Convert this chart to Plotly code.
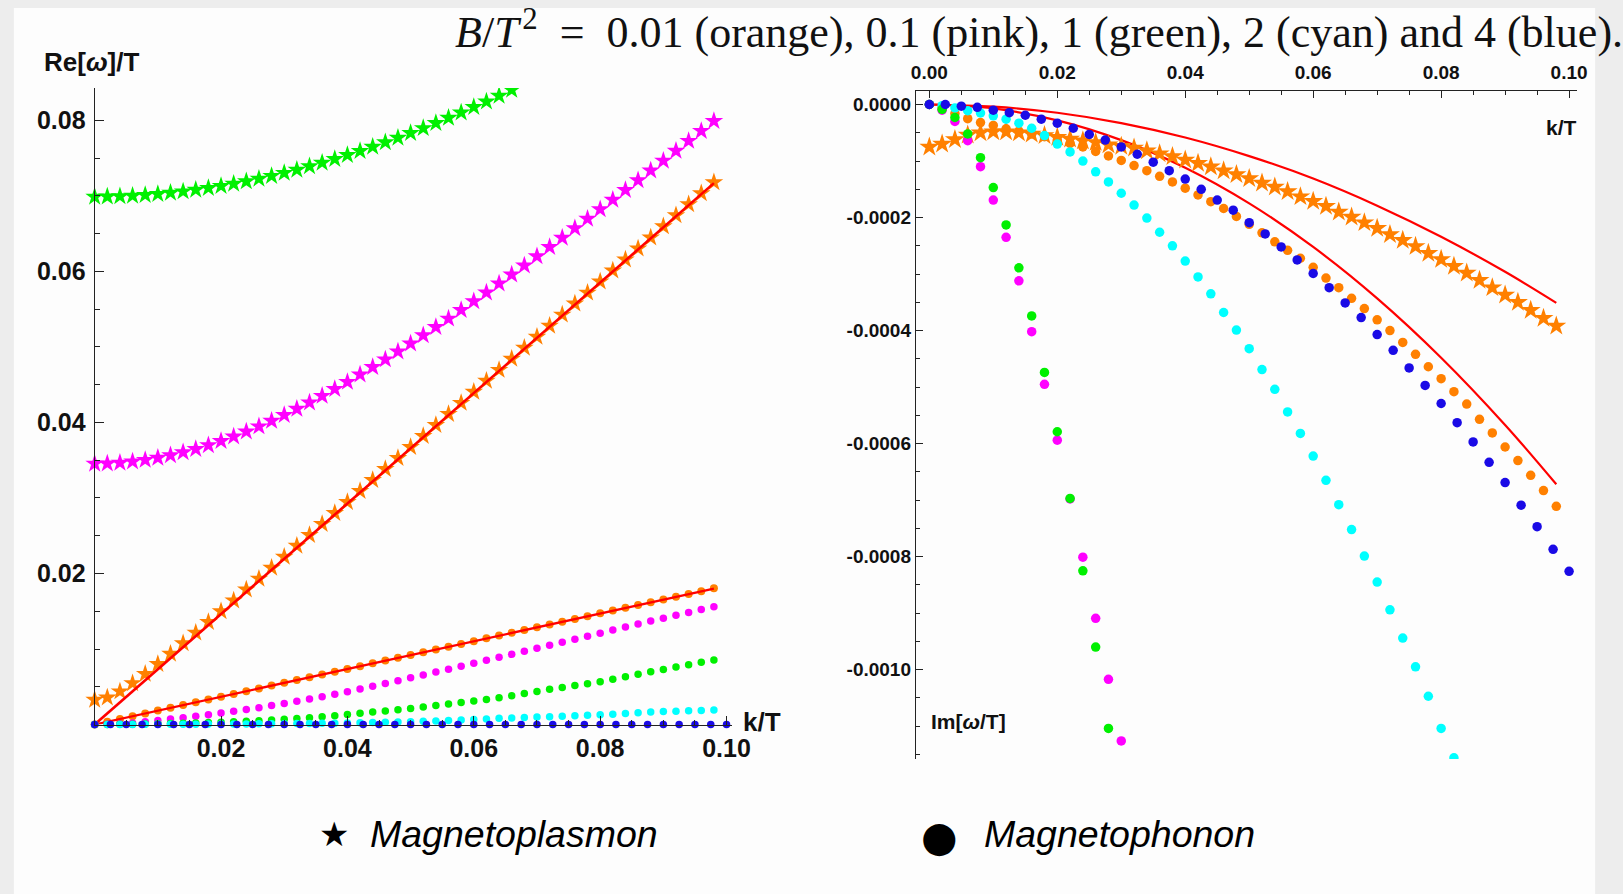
import plotly.graph_objects as go

# ---------------------------------------------------------------- data
# wave-number grids k/T
K2 = [0.000, 0.002, 0.004, 0.006, 0.008, 0.010, 0.012, 0.014, 0.016, 0.018,
      0.020, 0.022, 0.024, 0.026, 0.028, 0.030, 0.032, 0.034, 0.036, 0.038,
      0.040, 0.042, 0.044, 0.046, 0.048, 0.050, 0.052, 0.054, 0.056, 0.058,
      0.060, 0.062, 0.064, 0.066, 0.068, 0.070, 0.072, 0.074, 0.076, 0.078,
      0.080, 0.082, 0.084, 0.086, 0.088, 0.090, 0.092, 0.094, 0.096, 0.098]
K25 = [0.0000, 0.0025, 0.0050, 0.0075, 0.0100, 0.0125, 0.0150, 0.0175, 0.0200, 0.0225,
       0.0250, 0.0275, 0.0300, 0.0325, 0.0350, 0.0375, 0.0400, 0.0425, 0.0450, 0.0475,
       0.0500, 0.0525, 0.0550, 0.0575, 0.0600, 0.0625, 0.0650, 0.0675, 0.0700, 0.0725,
       0.0750, 0.0775, 0.0800, 0.0825, 0.0850, 0.0875, 0.0900, 0.0925, 0.0950, 0.0975,
       0.1000]
K_FIT = [0.0, 0.010, 0.020, 0.030, 0.040, 0.050, 0.060, 0.070, 0.080, 0.090, 0.098]

# Re[omega]/T, magnetoplasmon (stars)
PLASMON_RE_ORANGE = [
    0.00326, 0.00357, 0.00438, 0.00547, 0.00670, 0.00801, 0.00937, 0.01076, 0.01216, 0.01358,
    0.01500, 0.01643, 0.01787, 0.01931, 0.02076, 0.02220, 0.02366, 0.02510, 0.02656, 0.02801,
    0.02946, 0.03092, 0.03238, 0.03384, 0.03529, 0.03675, 0.03821, 0.03966, 0.04113, 0.04259,
    0.04405, 0.04551, 0.04696, 0.04843, 0.04989, 0.05135, 0.05281, 0.05428, 0.05574, 0.05719,
    0.05866, 0.06012, 0.06159, 0.06304, 0.06450, 0.06597, 0.06743, 0.06890, 0.07036, 0.07182]
PLASMON_RE_PINK = [
    0.03454, 0.03457, 0.03467, 0.03482, 0.03504, 0.03531, 0.03565, 0.03604, 0.03649, 0.03699,
    0.03754, 0.03814, 0.03879, 0.03948, 0.04021, 0.04099, 0.04180, 0.04264, 0.04352, 0.04443,
    0.04537, 0.04634, 0.04733, 0.04835, 0.04939, 0.05045, 0.05154, 0.05264, 0.05375, 0.05489,
    0.05604, 0.05721, 0.05839, 0.05958, 0.06078, 0.06200, 0.06323, 0.06446, 0.06571, 0.06697,
    0.06823, 0.06950, 0.07078, 0.07207, 0.07337, 0.07467, 0.07597, 0.07729, 0.07861, 0.07993]
PLASMON_RE_GREEN = [
    0.06990, 0.06991, 0.06996, 0.07003, 0.07013, 0.07026, 0.07041, 0.07060, 0.07081, 0.07105,
    0.07132, 0.07161, 0.07193, 0.07228, 0.07265, 0.07305, 0.07347, 0.07392, 0.07439, 0.07489,
    0.07541, 0.07595, 0.07651, 0.07710, 0.07770, 0.07833, 0.07898, 0.07965, 0.08034, 0.08104,
    0.08177, 0.08251, 0.08327, 0.08405, 0.08484]

# Re[omega]/T, magnetophonon (dots)
PHONON_RE_ORANGE = [
    0.0, 0.00037, 0.00074, 0.00110, 0.00147, 0.00184, 0.00221, 0.00258, 0.00294, 0.00331,
    0.00368, 0.00405, 0.00442, 0.00478, 0.00515, 0.00552, 0.00589, 0.00626, 0.00662, 0.00699,
    0.00736, 0.00773, 0.00810, 0.00846, 0.00883, 0.00920, 0.00957, 0.00994, 0.01030, 0.01067,
    0.01104, 0.01141, 0.01178, 0.01214, 0.01251, 0.01288, 0.01325, 0.01362, 0.01398, 0.01435,
    0.01472, 0.01509, 0.01546, 0.01582, 0.01619, 0.01656, 0.01693, 0.01730, 0.01766, 0.01803]
PHONON_RE_PINK = [
    0.0, 0.00003, 0.00010, 0.00020, 0.00035, 0.00052, 0.00072, 0.00090, 0.00110, 0.00130,
    0.00152, 0.00174, 0.00198, 0.00223, 0.00250, 0.00278, 0.00307, 0.00337, 0.00368, 0.00400,
    0.00435, 0.00470, 0.00506, 0.00543, 0.00580, 0.00618, 0.00656, 0.00695, 0.00733, 0.00772,
    0.00810, 0.00850, 0.00890, 0.00930, 0.00970, 0.01010, 0.01050, 0.01090, 0.01130, 0.01170,
    0.01210, 0.01250, 0.01290, 0.01330, 0.01370, 0.01408, 0.01446, 0.01484, 0.01522, 0.01560]
PHONON_RE_GREEN = [
    0.0, 0.00001, 0.00002, 0.00004, 0.00006, 0.00009, 0.00012, 0.00016, 0.00020, 0.00025,
    0.00030, 0.00036, 0.00043, 0.00050, 0.00058, 0.00068, 0.00078, 0.00090, 0.00103, 0.00117,
    0.00132, 0.00148, 0.00164, 0.00180, 0.00196, 0.00213, 0.00231, 0.00250, 0.00270, 0.00290,
    0.00310, 0.00332, 0.00355, 0.00382, 0.00410, 0.00438, 0.00466, 0.00490, 0.00516, 0.00541,
    0.00567, 0.00600, 0.00633, 0.00666, 0.00700, 0.00730, 0.00761, 0.00792, 0.00823, 0.00854]
PHONON_RE_CYAN = [
    0.0, 0.0, 0.00001, 0.00001, 0.00002, 0.00002, 0.00003, 0.00003, 0.00004, 0.00005,
    0.00006, 0.00007, 0.00008, 0.00009, 0.00010, 0.00011, 0.00012, 0.00014, 0.00016, 0.00018,
    0.00020, 0.00023, 0.00026, 0.00030, 0.00034, 0.00038, 0.00043, 0.00048, 0.00054, 0.00060,
    0.00066, 0.00074, 0.00082, 0.00087, 0.00092, 0.00098, 0.00103, 0.00109, 0.00115, 0.00121,
    0.00128, 0.00137, 0.00146, 0.00156, 0.00165, 0.00171, 0.00176, 0.00181, 0.00187, 0.00192]
PHONON_RE_BLUE = [0.0] * 41

# analytic hydrodynamic curves for B/T^2 = 0.01 (red)
RED_K = [0.0, 0.098]
RED_RE_PLASMON = [0.0, 0.0717]
RED_RE_PHONON = [0.0, 0.0180]
RED_IM_PLASMON = [0.0, -0.0000037, -0.0000146, -0.0000329, -0.0000584, -0.0000913,
                  -0.000131, -0.000179, -0.000234, -0.000296, -0.000351]
RED_IM_PHONON = [0.0, -0.000007, -0.000028, -0.000063, -0.000112, -0.000175,
                 -0.000252, -0.000343, -0.000448, -0.000567, -0.000672]

# Im[omega/T]
PLASMON_IM_ORANGE = [
    -0.000075, -0.000070, -0.000062, -0.000054, -0.000050, -0.000048, -0.000048, -0.000050, -0.000052, -0.000055,
    -0.000058, -0.000061, -0.000064, -0.000067, -0.000071, -0.000074, -0.000077, -0.000082, -0.000087, -0.000092,
    -0.000098, -0.000104, -0.000110, -0.000117, -0.000124, -0.000131, -0.000139, -0.000146, -0.000154, -0.000163,
    -0.000171, -0.000180, -0.000190, -0.000199, -0.000209, -0.000219, -0.000230, -0.000240, -0.000251, -0.000263,
    -0.000274, -0.000286, -0.000298, -0.000311, -0.000324, -0.000337, -0.000350, -0.000364, -0.000378, -0.000392]
PHONON_IM_ORANGE = [
    0.0, -0.000006, -0.000016, -0.000025, -0.000032, -0.000037, -0.000043, -0.000047, -0.000052, -0.000057,
    -0.000063, -0.000069, -0.000075, -0.000083, -0.000091, -0.000099, -0.000108, -0.000117, -0.000127, -0.000137,
    -0.000148, -0.000160, -0.000172, -0.000184, -0.000198, -0.000212, -0.000227, -0.000243, -0.000258, -0.000272,
    -0.000288, -0.000307, -0.000324, -0.000343, -0.000361, -0.000381, -0.000400, -0.000421, -0.000442, -0.000464,
    -0.000485, -0.000508, -0.000530, -0.000557, -0.000581, -0.000606, -0.000630, -0.000656, -0.000683, -0.000711]
PHONON_IM_PINK = [
    0.0, -0.000010, -0.000030, -0.000064, -0.000110, -0.000169, -0.000235, -0.000312,
    -0.000402, -0.000495, -0.000594, -0.000698, -0.000801, -0.000909, -0.001017, -0.001126]
PHONON_IM_GREEN = [
    0.0, -0.0000085, -0.000023, -0.000052, -0.000094, -0.000147, -0.000213, -0.000289,
    -0.000374, -0.000474, -0.000579, -0.000697, -0.000825, -0.000960, -0.001104]
PHONON_IM_CYAN = [
    0.0, -0.000002, -0.000006, -0.000011, -0.000015, -0.000020, -0.000026, -0.000033, -0.000042, -0.000055,
    -0.000070, -0.000084, -0.000100, -0.000119, -0.000137, -0.000157, -0.000178, -0.000201, -0.000226, -0.000250,
    -0.000277, -0.000305, -0.000335, -0.000368, -0.000399, -0.000432, -0.000469, -0.000504, -0.000544, -0.000582,
    -0.000622, -0.000665, -0.000708, -0.000752, -0.000799, -0.000845, -0.000894, -0.000944, -0.000995, -0.001047,
    -0.001104, -0.001156]
PHONON_IM_BLUE = [
    0.0, 0.0, -0.000003, -0.000005, -0.000010, -0.0000145, -0.000019, -0.000026, -0.000033, -0.000042,
    -0.000053, -0.000063, -0.000075, -0.000088, -0.000102, -0.000117, -0.000132, -0.000150, -0.000169, -0.000187,
    -0.000209, -0.000229, -0.000252, -0.000275, -0.000299, -0.000324, -0.000351, -0.000377, -0.000407, -0.000435,
    -0.000466, -0.000497, -0.000529, -0.000563, -0.000597, -0.000633, -0.000669, -0.000709, -0.000747, -0.000787,
    -0.000826]

LEFT_X_TICKS = [0.02, 0.04, 0.06, 0.08, 0.10]
LEFT_Y_TICKS = [0.02, 0.04, 0.06, 0.08]
RIGHT_X_TICKS = [0.00, 0.02, 0.04, 0.06, 0.08, 0.10]
RIGHT_Y_TICKS = [0.0, -0.0002, -0.0004, -0.0006, -0.0008, -0.0010]

TITLE = ("<i>B</i>/<i>T</i>\u200a<sup>2</sup>\u2002=\u20020.01 (orange), 0.1 (pink), "
         "1 (green), 2 (cyan) and 4 (blue).")

# ---------------------------------------------------------------- style
ORANGE = "#ff8000"
PINK = "#ff00ff"
GREEN = "#00f000"
CYAN = "#00ffff"
BLUE = "#1a0ae6"
RED = "#ff0000"
AXIS = "#222222"

W, H = 1623, 894

fig = go.Figure()


def stars(x, y, color, axes, size, clip=False):
    xa, ya = axes
    fig.add_trace(go.Scatter(x=x, y=y, mode="markers", xaxis=xa, yaxis=ya,
                             cliponaxis=clip,
                             marker=dict(symbol="star", size=size, color=color,
                                         line=dict(width=0))))


def dots(x, y, color, axes, size, clip=False):
    xa, ya = axes
    fig.add_trace(go.Scatter(x=x, y=y, mode="markers", xaxis=xa, yaxis=ya,
                             cliponaxis=clip,
                             marker=dict(symbol="circle", size=size, color=color,
                                         line=dict(width=0))))


def curve(x, y, axes, width=2.6):
    xa, ya = axes
    fig.add_trace(go.Scatter(x=x, y=y, mode="lines", xaxis=xa, yaxis=ya,
                             line=dict(color=RED, width=width, shape="spline")))


LEFT = ("x", "y")
RIGHT = ("x2", "y2")

# left panel: real parts
stars(K2, PLASMON_RE_ORANGE, ORANGE, LEFT, 14)
stars(K2, PLASMON_RE_PINK, PINK, LEFT, 14)
# green branch: the first stars sit on the k = 0 axis and stay whole,
# the upper ones run into the top of the frame and are clipped there
n_green = len(PLASMON_RE_GREEN)
stars(K2[:4], PLASMON_RE_GREEN[:4], GREEN, LEFT, 14)
stars(K2[4:n_green], PLASMON_RE_GREEN[4:], GREEN, LEFT, 14, True)
dots(K2, PHONON_RE_ORANGE, ORANGE, LEFT, 8)
curve(RED_K, RED_RE_PLASMON, LEFT)
curve(RED_K, RED_RE_PHONON, LEFT, 2.3)
dots(K2, PHONON_RE_PINK, PINK, LEFT, 7.5)
dots(K2, PHONON_RE_GREEN, GREEN, LEFT, 7.5)
dots(K2, PHONON_RE_CYAN, CYAN, LEFT, 7.5)
dots(K25, PHONON_RE_BLUE, BLUE, LEFT, 7.5)

# right panel: imaginary parts
curve(K_FIT, RED_IM_PLASMON, RIGHT, 2.2)
curve(K_FIT, RED_IM_PHONON, RIGHT, 2.2)
stars(K2, PLASMON_IM_ORANGE, ORANGE, RIGHT, 15, True)
dots(K2, PHONON_IM_ORANGE, ORANGE, RIGHT, 9.5, True)
dots(K2[:len(PHONON_IM_CYAN)], PHONON_IM_CYAN, CYAN, RIGHT, 9.5, True)
dots(K2[:len(PHONON_IM_PINK)], PHONON_IM_PINK, PINK, RIGHT, 9.5, True)
dots(K2[:len(PHONON_IM_GREEN)], PHONON_IM_GREEN, GREEN, RIGHT, 9.5, True)
dots(K25, PHONON_IM_BLUE, BLUE, RIGHT, 9.5, True)


def px_x(p):
    return p / W


def px_y(p):
    return 1 - p / H


left_font = dict(family="Liberation Sans", size=25, color="#111111", weight="bold")
right_font = dict(family="Liberation Sans", size=19, color="#111111", weight="bold")

common = dict(showgrid=False, zeroline=False, showline=True, linecolor=AXIS,
              linewidth=1, ticks="inside", tickcolor=AXIS, tickwidth=1,
              layer="above traces")

fig.update_layout(
    width=W, height=H,
    margin=dict(l=0, r=0, t=0, b=0),
    paper_bgcolor="#ededed",
    plot_bgcolor="rgba(0,0,0,0)",
    showlegend=False,
    xaxis=dict(domain=[px_x(91), px_x(737.5)], range=[0, 0.1008], anchor="y",
               tickmode="array", tickvals=LEFT_X_TICKS,
               ticktext=[f"{v:.2f}" for v in LEFT_X_TICKS], ticklen=9,
               tickfont=left_font, ticklabelstandoff=1,
               minor=dict(ticks="inside", ticklen=5, tickmode="linear",
                          tick0=0, dtick=0.005, tickcolor=AXIS),
               **common),
    yaxis=dict(domain=[px_y(724.5), px_y(88)], range=[0, 0.0843], anchor="x",
               tickmode="array", tickvals=LEFT_Y_TICKS,
               ticktext=[f"{v:.2f}" for v in LEFT_Y_TICKS], ticklen=9,
               tickfont=left_font, ticklabelstandoff=3,
               minor=dict(ticks="inside", ticklen=5, tickmode="linear",
                          tick0=0, dtick=0.005, tickcolor=AXIS),
               **common),
    xaxis2=dict(domain=[px_x(924.5), px_x(1596)], range=[-0.00211, 0.1013],
                anchor="y2", side="top",
                tickmode="array", tickvals=RIGHT_X_TICKS,
                ticktext=[f"{v:.2f}" for v in RIGHT_X_TICKS], ticklen=7,
                tickfont=right_font, ticklabelstandoff=3,
                minor=dict(ticks="inside", ticklen=4, tickmode="linear",
                           tick0=0, dtick=0.005, tickcolor=AXIS),
                **common),
    yaxis2=dict(domain=[px_y(759), px_y(91)], range=[-0.001158, 0.0000239],
                anchor="x2",
                tickmode="array", tickvals=RIGHT_Y_TICKS,
                ticktext=[("0.0000" if v == 0 else f"{v:.4f}") for v in RIGHT_Y_TICKS],
                ticklen=7, tickfont=right_font, ticklabelstandoff=0,
                minor=dict(ticks="inside", ticklen=4, tickmode="linear",
                           tick0=0, dtick=0.00005, tickcolor=AXIS),
                **common),
    shapes=[dict(type="rect", xref="paper", yref="paper",
                 x0=px_x(9), x1=px_x(1614), y0=0, y1=px_y(8),
                 fillcolor="#fdfdfd", line=dict(width=0), layer="below")],
)

labels = [
    dict(text=TITLE, x=px_x(455), y=px_y(30), xanchor="left", yanchor="middle",
         font=dict(family="Liberation Serif", size=44, color="#111111")),
    dict(text="Re[<i>ω</i>]/T", x=px_x(38), y=px_y(62), xanchor="left", yanchor="middle",
         font=dict(family="Liberation Sans", size=26, color="#111111", weight="bold")),
    dict(text="k/T", x=px_x(747), y=px_y(722), xanchor="left", yanchor="middle",
         font=dict(family="Liberation Sans", size=26, color="#111111", weight="bold")),
    dict(text="k/T", x=px_x(1562), y=px_y(127), xanchor="left", yanchor="middle",
         font=dict(family="Liberation Sans", size=21, color="#111111", weight="bold")),
    dict(text="Im[<i>ω</i>/T]", x=px_x(938), y=px_y(721), xanchor="left", yanchor="middle",
         font=dict(family="Liberation Sans", size=21, color="#111111", weight="bold")),
    dict(text="★", x=px_x(334), y=px_y(834), xanchor="center", yanchor="middle",
         font=dict(family="DejaVu Sans", size=34, color="#000000")),
    dict(text="<i>Magnetoplasmon</i>", x=px_x(368), y=px_y(834), xanchor="left",
         yanchor="middle",
         font=dict(family="Liberation Sans", size=37.5, color="#000000")),
    dict(text="●", x=px_x(949), y=px_y(836), xanchor="center", yanchor="middle",
         font=dict(family="DejaVu Sans", size=42, color="#000000")),
    dict(text="<i>Magnetophonon</i>", x=px_x(992), y=px_y(834), xanchor="left",
         yanchor="middle",
         font=dict(family="Liberation Sans", size=37.5, color="#000000")),
]
for a in labels:
    fig.add_annotation(xref="paper", yref="paper", showarrow=False, **a)

fig.write_html("out.html")
